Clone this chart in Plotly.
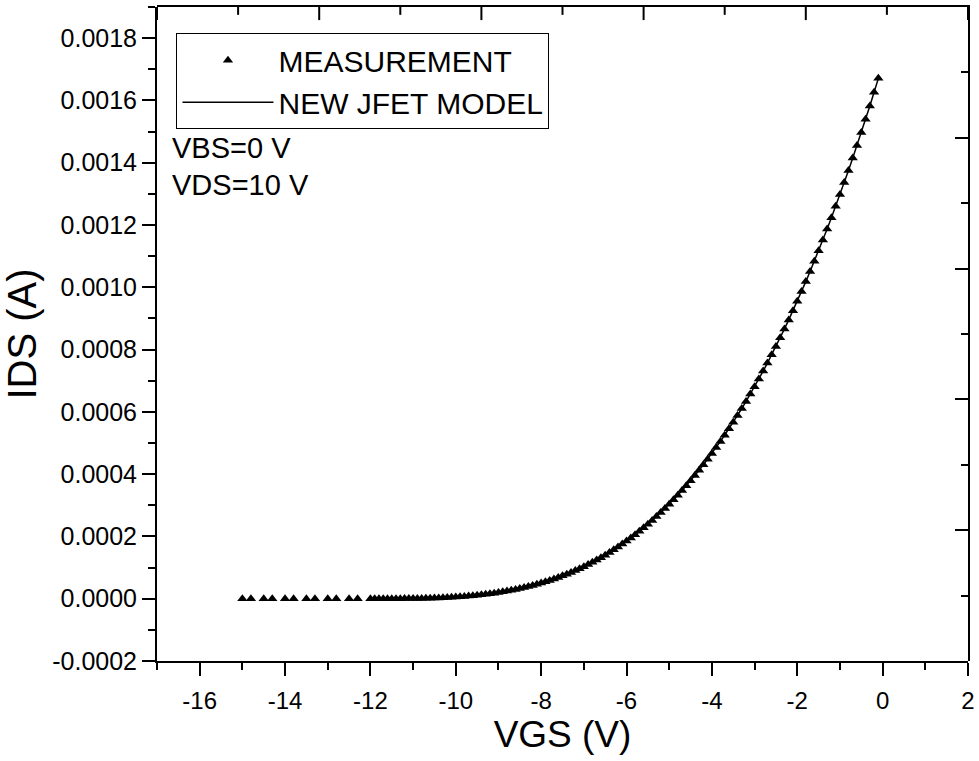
import plotly.graph_objects as go

# ---- data ----
vgs_sparse = [-15.0, -14.8, -14.5, -14.3, -14.0, -13.8, -13.5, -13.3, -13.0, -12.8, -12.5, -12.3]
ids_sparse_uA = [0.0] * len(vgs_sparse)

vgs_dense = [
    -12.0, -11.9, -11.8, -11.7, -11.6, -11.5, -11.4, -11.3, -11.2, -11.1,
    -11.0, -10.9, -10.8, -10.7, -10.6, -10.5, -10.4, -10.3, -10.2, -10.1,
    -10.0, -9.9, -9.8, -9.7, -9.6, -9.5, -9.4, -9.3, -9.2, -9.1,
    -9.0, -8.9, -8.8, -8.7, -8.6, -8.5, -8.4, -8.3, -8.2, -8.1,
    -8.0, -7.9, -7.8, -7.7, -7.6, -7.5, -7.4, -7.3, -7.2, -7.1,
    -7.0, -6.9, -6.8, -6.7, -6.6, -6.5, -6.4, -6.3, -6.2, -6.1,
    -6.0, -5.9, -5.8, -5.7, -5.6, -5.5, -5.4, -5.3, -5.2, -5.1,
    -5.0, -4.9, -4.8, -4.7, -4.6, -4.5, -4.4, -4.3, -4.2, -4.1,
    -4.0, -3.9, -3.8, -3.7, -3.6, -3.5, -3.4, -3.3, -3.2, -3.1,
    -3.0, -2.9, -2.8, -2.7, -2.6, -2.5, -2.4, -2.3, -2.2, -2.1,
    -2.0, -1.9, -1.8, -1.7, -1.6, -1.5, -1.4, -1.3, -1.2, -1.1,
    -1.0, -0.9, -0.8, -0.7, -0.6, -0.5, -0.4, -0.3, -0.2, -0.1,
]
ids_dense_uA = [
    0.0, 0.0, 0.003, 0.01, 0.03, 0.06, 0.11, 0.19, 0.29, 0.42,
    0.585, 0.795, 1.051, 1.359, 1.724, 2.152, 2.648, 3.218, 3.867, 4.600,
    5.424, 6.345, 7.368, 8.499, 9.745, 11.11, 12.60, 14.23, 15.99, 17.90,
    19.96, 22.18, 24.56, 27.11, 29.84, 32.75, 35.85, 39.15, 42.66, 46.37,
    50.30, 54.45, 58.83, 63.45, 68.31, 73.43, 78.81, 84.45, 90.36, 96.55,
    103.0, 109.8, 116.9, 124.2, 131.9, 139.9, 148.3, 157.0, 166.0, 175.3,
    185.1, 195.2, 205.6, 216.5, 227.7, 239.4, 251.4, 263.8, 276.7, 290.0,
    303.7, 317.9, 332.5, 347.6, 363.1, 379.1, 395.6, 412.5, 430.0, 448.0,
    466.4, 485.4, 505.0, 525.0, 545.6, 566.8, 588.5, 610.7, 633.6, 657.0,
    681.0, 705.6, 730.8, 756.7, 783.1, 810.2, 837.9, 866.3, 895.3, 925.0,
    955.4, 986.5, 1018.2, 1050.6, 1083.8, 1117.6, 1152.1, 1187.4, 1223.5, 1260.2,
    1297.8, 1336.1, 1375.1, 1414.9, 1455.6, 1497.0, 1539.3, 1582.3, 1626.2, 1670.9,
]
# the model curve overlaps the measurement over -12 V ... -0.1 V
vgs_model = vgs_dense
ids_model_uA = ids_dense_uA

x_ticks = [-16, -14, -12, -10, -8, -6, -4, -2, 0, 2]
x_tick_text = ["-16", "-14", "-12", "-10", "-8", "-6", "-4", "-2", "0", "2"]
y_ticks = [-0.0002, 0.0, 0.0002, 0.0004, 0.0006, 0.0008, 0.0010, 0.0012, 0.0014, 0.0016, 0.0018]
y_tick_text = ["-0.0002", "0.0000", "0.0002", "0.0004", "0.0006", "0.0008",
               "0.0010", "0.0012", "0.0014", "0.0016", "0.0018"]
# frame axes (top / right) are divided into 10 equal parts
frame_range = [0, 10]
frame_major = [0, 2, 4, 6, 8, 10]
frame_minor = [1, 3, 5, 7, 9]

FONT = "Liberation Sans, Arial, sans-serif"

meas_x = vgs_sparse + vgs_dense
meas_y = [v * 1e-6 for v in ids_sparse_uA + ids_dense_uA]
model_y = [v * 1e-6 for v in ids_model_uA]

fig = go.Figure()
fig.add_trace(go.Scatter(
    x=meas_x, y=meas_y, mode="markers", name="MEASUREMENT",
    marker=dict(symbol="triangle-up", size=9, color="black", line=dict(width=0)),
))
fig.add_trace(go.Scatter(
    x=vgs_model, y=model_y, mode="lines", name="NEW JFET MODEL",
    line=dict(color="black", width=1.5),
))
# invisible carrier for the frame subplot (top/right axes)
fig.add_trace(go.Scatter(x=frame_range, y=frame_range, xaxis="x2", yaxis="y2",
                         showlegend=False, hoverinfo="skip", mode="markers",
                         marker=dict(opacity=0, size=1)))

axis_common = dict(showline=True, linecolor="black", linewidth=2,
                   tickcolor="black", tickwidth=2, showgrid=False, zeroline=False)

# top-edge ticks pointing down into the plot, placed on the frame axis scale
top = frame_range[1]
tick_shapes = []
for v in frame_major:
    tick_shapes.append(dict(type="line", xref="x2", yref="y2", x0=v, x1=v,
                            y0=top, y1=top - 0.20, line=dict(color="black", width=2)))
for v in frame_minor:
    tick_shapes.append(dict(type="line", xref="x2", yref="y2", x0=v, x1=v,
                            y0=top, y1=top - 0.12, line=dict(color="black", width=2)))

fig.update_layout(
    template="none",
    width=979, height=761,
    margin=dict(l=157, r=11, t=7, b=100),
    paper_bgcolor="white", plot_bgcolor="rgba(0,0,0,0)",
    font=dict(family=FONT, color="black", size=24),
    xaxis=dict(domain=[0, 1], anchor="y", range=[-17, 2],
               tickvals=x_ticks, ticktext=x_tick_text,
               ticks="outside", ticklen=13,
               minor=dict(dtick=1, tick0=0, ticks="outside", ticklen=7,
                          tickwidth=2, tickcolor="black"),
               tickfont=dict(size=24, family=FONT), ticklabelstandoff=4,
               title=dict(text="VGS (V)", font=dict(size=37, family=FONT), standoff=8),
               **axis_common),
    yaxis=dict(domain=[0, 1], anchor="x", range=[-0.0002, 0.0019],
               tickvals=y_ticks, ticktext=y_tick_text,
               ticks="outside", ticklen=13,
               minor=dict(dtick=0.0001, tick0=0, ticks="outside", ticklen=7,
                          tickwidth=2, tickcolor="black"),
               tickfont=dict(size=25, family=FONT),
               title=dict(text="IDS (A)", font=dict(size=40, family=FONT), standoff=8),
               **axis_common),
    xaxis2=dict(domain=[0, 1], anchor="y2", side="top", range=frame_range,
                ticks="", showticklabels=False, **axis_common),
    yaxis2=dict(domain=[0, 1], anchor="x2", side="right", range=frame_range,
                tickmode="array", tickvals=frame_major, ticks="inside", ticklen=13,
                showticklabels=False,
                minor=dict(dtick=1, tick0=0, ticks="inside", ticklen=7,
                           tickwidth=2, tickcolor="black"),
                **axis_common),
    shapes=tick_shapes,
    legend=dict(x=0.024, y=0.960, xanchor="left", yanchor="top",
                bgcolor="white", bordercolor="black", borderwidth=1,
                font=dict(size=30, family=FONT), itemwidth=91,
                tracegroupgap=0),
    showlegend=True,
    annotations=[
        dict(text="VBS=0 V", xref="paper", yref="paper", x=0.016, y=0.7846,
             xanchor="left", yanchor="middle", showarrow=False,
             font=dict(size=29, family=FONT)),
        dict(text="VDS=10 V", xref="paper", yref="paper", x=0.016, y=0.728,
             xanchor="left", yanchor="middle", showarrow=False,
             font=dict(size=29, family=FONT)),
    ],
)

fig.write_html("out.html")
